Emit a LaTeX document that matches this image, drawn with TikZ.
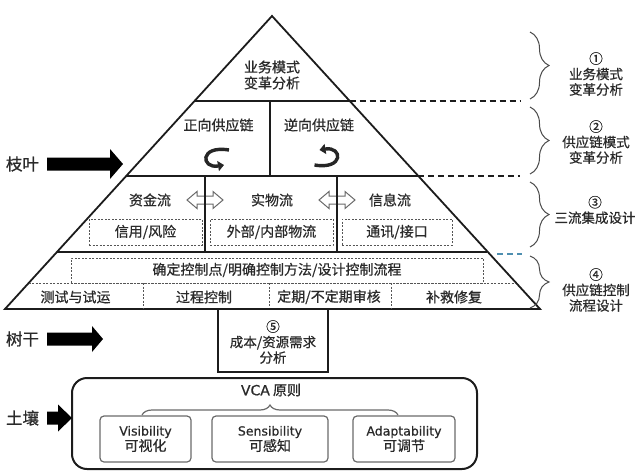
\documentclass[tikz,border=0pt]{standalone}
\usepackage{fontspec}
\setmainfont{Noto Sans CJK SC}[UprightFeatures={FakeBold=0.7}]
\newfontfamily\latin{DejaVu Sans}[UprightFeatures={FakeBold=0.7}]
\usetikzlibrary{decorations.pathreplacing,arrows.meta}
\definecolor{ink}{HTML}{2A2A2A}
\definecolor{linec}{HTML}{1C1C1C}
\definecolor{dashc}{HTML}{555555}
\definecolor{boxc}{HTML}{6A6A6A}
\definecolor{tealdash}{HTML}{4F8FB0}
\begin{document}
\begin{tikzpicture}[x=1pt,y=-1pt,
  txt/.style={font=\fontsize{14}{16}\selectfont, text=ink, align=center, inner sep=0pt},
  rtxt/.style={font=\fontsize{13.5}{15.5}\selectfont, text=ink, align=center, inner sep=0pt},
  bigtxt/.style={font=\fontsize{16.5}{18}\selectfont, text=ink, inner sep=0pt},
  solidline/.style={draw=linec, line width=1.8pt},
  thinline/.style={draw=linec, line width=1.3pt},
  dashline/.style={draw=dashc, line width=0.8pt, dash pattern=on 2pt off 1.5pt},
  sidedash/.style={draw=linec, line width=1.3pt, dash pattern=on 6pt off 4pt},
  dashbox/.style={draw=dashc, line width=0.8pt, dash pattern=on 2pt off 1.5pt, inner sep=0pt},
  rbrace/.style={draw=ink!85, line width=1pt, decorate, decoration={brace, amplitude=19pt}},
  hollowarrow/.style={draw=boxc, line width=1pt, fill=white},
  blackarrow/.style={fill=black, draw=none},
  turnarrow/.style={draw=black!85, line width=3.4pt, -{Triangle[length=6pt,width=10pt]}},
  vbox/.style={draw=boxc, line width=1.2pt, rounded corners=4pt, inner sep=0pt, align=center, text=ink}
]
\useasboundingbox (0,0) rectangle (640,474);

% ---------- pyramid ----------
\coordinate (apex) at (272,16);
\coordinate (bl) at (5,309);
\coordinate (br) at (540,309);
\draw[solidline, line join=miter] (apex) -- (bl) -- (br) -- cycle;

% tier lines
\coordinate (l1) at (194.5,101); \coordinate (r1) at (349.5,101);
\coordinate (l2) at (126.2,176); \coordinate (r2) at (417.8,176);
\coordinate (l3) at (56.9,252);  \coordinate (r3) at (487.1,252);
\coordinate (l4) at (28.7,283);  \coordinate (r4) at (515.3,283);
\draw[solidline] (l1) -- (r1);
\draw[solidline] (l2) -- (r2);
\draw[solidline] (l3) -- (r3);
\draw[dashline] (l4) -- (r4);

% side dashed lines
\coordinate (d1) at (520,101);
\coordinate (d2) at (520,176);
\coordinate (t3a) at (497,254);
\coordinate (t3b) at (522,254);
\draw[sidedash] (r1) -- (d1);
\draw[sidedash] (r2) -- (d2);
\draw[draw=tealdash, line width=1.3pt, dash pattern=on 6pt off 4pt] (t3a) -- (t3b);

% tier 1
\node[txt] (bm) at (272,75) {业务模式\\变革分析};

% tier 2
\coordinate (v2a) at (270,101); \coordinate (v2b) at (270,176);
\draw[thinline] (v2a) -- (v2b);
\node[txt] (fwd) at (218.5,125) {正向供应链};
\node[txt] (rev) at (319,125) {逆向供应链};
\draw[turnarrow] (229,150) .. controls (199,145) and (201,169) .. (224,165);
\draw[turnarrow] (314.5,165) .. controls (344.5,170) and (342.5,146) .. (319.5,150);

% tier 3
\node[txt] (zj) at (150,200) {资金流};
\node[txt] (sw) at (272,200) {实物流};
\node[txt] (xx) at (390,200) {信息流};
\draw[hollowarrow, shift={(205,200)}] (-18,0) -- (-8,-8.5) -- (-8,-4) -- (8,-4) -- (8,-8.5) -- (18,0) -- (8,8.5) -- (8,4) -- (-8,4) -- (-8,8.5) -- cycle;
\draw[hollowarrow, shift={(337,200)}] (-18,0) -- (-8,-8.5) -- (-8,-4) -- (8,-4) -- (8,-8.5) -- (18,0) -- (8,8.5) -- (8,4) -- (-8,4) -- (-8,8.5) -- cycle;
\coordinate (v3a) at (205,176); \coordinate (v3b) at (205,252);
\coordinate (v3c) at (337,176); \coordinate (v3d) at (337,252);
\draw[thinline] (v3a) -- (v3b);
\draw[thinline] (v3c) -- (v3d);
\node[dashbox, txt, minimum width=113pt, minimum height=26pt] (xy) at (145.5,232) {信用/风险};
\node[dashbox, txt, minimum width=123pt, minimum height=26pt] (wb) at (271.5,232) {外部/内部物流};
\node[dashbox, txt, minimum width=110pt, minimum height=26pt] (tx) at (397,232) {通讯/接口};

% tier 4
\node[dashbox, txt, minimum width=412pt, minimum height=25pt] (qd) at (277,270.5) {};
\node[txt] (qdt) at (277,270) {确定控制点/明确控制方法/设计控制流程};
\foreach \x/\n in {143/a,269/b,391/c}{
  \coordinate (bv\n1) at (\x,283); \coordinate (bv\n2) at (\x,309);
  \draw[dashline] (bv\n1) -- (bv\n2);
}
\node[txt] (cs) at (75.5,297) {测试与试运};
\node[txt] (gc) at (204,297) {过程控制};
\node[txt] (dq) at (329,297) {定期/不定期审核};
\node[txt] (bj) at (454,297) {补救修复};

% box 5
\draw[solidline] (218,309) rectangle (328,372);
\node[txt, font=\fontsize{13.5}{15.5}\selectfont] (cb) at (273,342) {⑤\\成本/资源需求\\分析};

% soil box
\draw[draw=linec, line width=2pt, rounded corners=15pt] (72,378) rectangle (477,469);
\node[txt] (vca) at (271,390) {{\latin VCA} 原则};
\draw[draw=boxc, line width=1.2pt, decorate, decoration={brace, amplitude=10pt}] (142,415) -- (398,415);
\node[vbox, minimum width=91pt, minimum height=46pt] (vis) at (145.5,439)
  {{\latin\fontsize{12.5}{17}\selectfont Visibility}\\{\fontsize{14}{17}\selectfont 可视化}};
\node[vbox, minimum width=116pt, minimum height=46pt] (sen) at (270,439)
  {{\latin\fontsize{12.5}{17}\selectfont Sensibility}\\{\fontsize{14}{17}\selectfont 可感知}};
\node[vbox, minimum width=102pt, minimum height=46pt] (ada) at (404,439)
  {{\latin\fontsize{12.5}{17}\selectfont Adaptability}\\{\fontsize{14}{17}\selectfont 可调节}};

% left labels and arrows
\node[bigtxt] (zy) at (22.5,164) {枝叶};
\node[bigtxt] (sg) at (22.5,339) {树干};
\node[bigtxt] (tr) at (22.5,418) {土壤};
\fill[blackarrow, shift={(47,164)}] (0,-6.5) -- (63,-6.5) -- (63,-15) -- (76,0) -- (63,15) -- (63,6.5) -- (0,6.5) -- cycle;
\fill[blackarrow, shift={(47,339)}] (0,-6.5) -- (45,-6.5) -- (45,-13) -- (56,0) -- (45,13) -- (45,6.5) -- (0,6.5) -- cycle;
\fill[blackarrow, shift={(47,418)}] (0,-6.5) -- (11,-6.5) -- (11,-13.5) -- (25,0) -- (11,13.5) -- (11,6.5) -- (0,6.5) -- cycle;

% right braces and labels
\draw[rbrace] (530,32) -- (530,99);
\draw[rbrace] (530,107) -- (530,174);
\draw[rbrace] (530,182) -- (530,247);
\draw[rbrace] (530,256) -- (530,308);
\node[rtxt] (s1) at (596,74) {①\\业务模式\\变革分析};
\node[rtxt] (s2) at (596,142) {②\\供应链模式\\变革分析};
\node[rtxt] (s3) at (595,210) {③\\三流集成设计};
\node[rtxt] (s4) at (596,290) {④\\供应链控制\\流程设计};
\end{tikzpicture}
\end{document}
